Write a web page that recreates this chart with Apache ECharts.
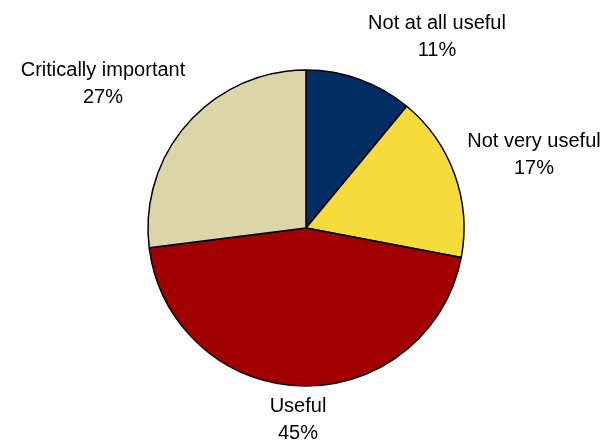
<!DOCTYPE html>
<html>
<head>
<meta charset="utf-8">
<script src="https://cdn.jsdelivr.net/npm/echarts@6/dist/echarts.min.js"></script>
<style>
  html, body { margin: 0; padding: 0; background: #fff; }
  #chart { width: 610px; height: 443px; }
</style>
</head>
<body>
<div id="chart"></div>
<script>
// Survey answers, clockwise from 12 o'clock
const categories = ['Not at all useful', 'Not very useful', 'Useful', 'Critically important'];
const shares = [11, 17, 45, 27];
const sliceColors = ['#002E62', '#F6DC3A', '#A20000', '#DCD5AA'];

// Label block centres (px), one per category
const labelAnchors = [[437, 37], [534, 155], [298, 420], [103, 84]];

const chart = echarts.init(document.getElementById('chart'), null, { renderer: 'canvas' });

chart.setOption({
  backgroundColor: '#ffffff',
  animation: false,
  series: [{
    type: 'pie',
    center: [306, 228],
    radius: 158,
    startAngle: 90,
    clockwise: true,
    avoidLabelOverlap: false,
    data: categories.map((name, i) => ({
      name: name,
      value: shares[i],
      itemStyle: { color: sliceColors[i] }
    })),
    itemStyle: { borderColor: '#000', borderWidth: 1.5 },
    emphasis: { disabled: true },
    label: {
      show: true,
      position: 'outside',
      formatter: p => p.name + '\n' + p.value + '%',
      fontFamily: 'Liberation Sans, Arial, sans-serif',
      fontSize: 20,
      lineHeight: 27,
      color: '#000',
      align: 'center'
    },
    labelLine: { show: false },
    labelLayout: function (params) {
      const a = labelAnchors[params.dataIndex];
      return { x: a[0], y: a[1], align: 'center', verticalAlign: 'middle' };
    }
  }]
});
</script>
</body>
</html>
